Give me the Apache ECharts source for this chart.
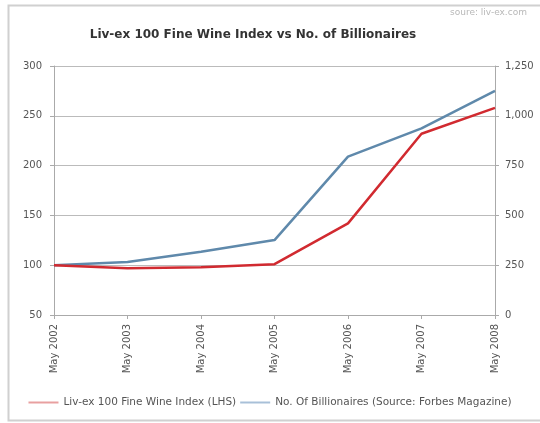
<!DOCTYPE html>
<html><head><meta charset="utf-8">
<script src="https://cdn.jsdelivr.net/npm/echarts@6/dist/echarts.min.js"></script>
<style>html,body{margin:0;padding:0;background:#fff}#c{width:540px;height:423px}</style>
</head><body><div id="c"></div>
<script>
const categories = ['May 2002','May 2003','May 2004','May 2005','May 2006','May 2007','May 2008'];
const wineIndex = [100, 97, 98, 101, 142, 232, 258];
const billionaires = [250, 266, 318, 376, 795, 937, 1125];
const leftTicks = {min: 50, max: 300, interval: 50};
const rightTicks = {min: 0, max: 1250, interval: 250};
const seriesNames = ['Liv-ex 100 Fine Wine Index (LHS)', 'No. Of Billionaires (Source: Forbes Magazine)'];

const FONT = 'DejaVu Sans';
const chart = echarts.init(document.getElementById('c'), null, {renderer: 'canvas'});
chart.setOption({
  animation: false,
  backgroundColor: '#fff',
  graphic: [
    {type: 'rect', shape: {x: 8.5, y: 5.5, width: 540, height: 415}, style: {fill: 'none', stroke: '#d0d0d0', lineWidth: 2}, z: -1},
    {type: 'text', left: 450, top: 8, style: {text: 'soure: liv-ex.com', fill: '#b8b8b8', font: '9px ' + FONT}}
  ],
  title: {
    text: 'Liv-ex 100 Fine Wine Index vs No. of Billionaires',
    left: 248, textAlign: 'center', top: 24,
    textStyle: {fontFamily: FONT, fontSize: 12, fontWeight: 'bold', color: '#333'}
  },
  legend: {
    bottom: 10, left: 'center',
    itemWidth: 30, itemHeight: 2, itemGap: 4,
    icon: 'rect',
    textStyle: {fontFamily: FONT, fontSize: 10.5, color: '#555'},
    data: [
      {name: seriesNames[0], itemStyle: {color: '#e8a0a0'}},
      {name: seriesNames[1], itemStyle: {color: '#a8c0d8'}}
    ]
  },
  grid: {left: 54, right: 45, top: 66, bottom: 108},
  xAxis: {
    type: 'category', data: categories, boundaryGap: false,
    axisLine: {lineStyle: {color: '#aaa'}},
    axisTick: {show: true, alignWithLabel: true, length: 4, lineStyle: {color: '#aaa'}},
    axisLabel: {rotate: 90, fontFamily: FONT, fontSize: 10, color: '#555', margin: 9}
  },
  yAxis: [
    {type: 'value', min: leftTicks.min, max: leftTicks.max, interval: leftTicks.interval,
     axisLine: {show: true, lineStyle: {color: '#aaa'}},
     axisTick: {show: true, length: 4, lineStyle: {color: '#aaa'}},
     splitLine: {lineStyle: {color: '#bbb'}},
     axisLabel: {fontFamily: FONT, fontSize: 10, color: '#555', margin: 12}},
    {type: 'value', min: rightTicks.min, max: rightTicks.max, interval: rightTicks.interval,
     axisLine: {show: true, lineStyle: {color: '#aaa'}},
     axisTick: {show: true, length: 4, lineStyle: {color: '#aaa'}},
     splitLine: {show: false},
     axisLabel: {fontFamily: FONT, fontSize: 10, color: '#555', margin: 10,
       formatter: v => v.toLocaleString('en-US')}}
  ],
  series: [
    {name: seriesNames[0], type: 'line', yAxisIndex: 0, data: wineIndex, symbol: 'none',
     lineStyle: {color: '#d12a30', width: 2.5}, itemStyle: {color: '#d12a30'}, z: 3},
    {name: seriesNames[1], type: 'line', yAxisIndex: 1, data: billionaires, symbol: 'none',
     lineStyle: {color: '#5f89ab', width: 2.5}, itemStyle: {color: '#5f89ab'}, z: 2}
  ]
});
</script></body></html>
